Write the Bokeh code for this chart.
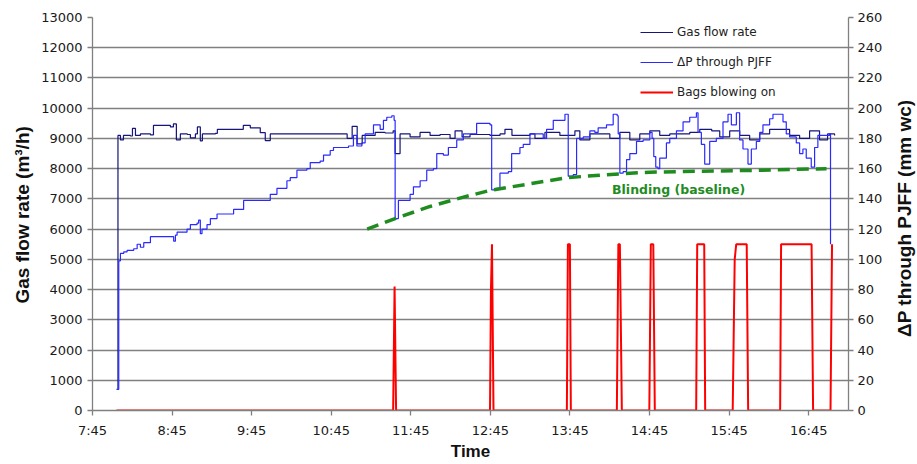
import math
from bokeh.plotting import figure
from bokeh.layouts import row
from bokeh.models import Range1d, LinearAxis, FixedTicker, Legend, LegendItem, Label
from bokeh.core.properties import value
from bokeh.embed import file_html
from bokeh.resources import INLINE

# ---------------- data (time in decimal hours) ----------------
x_ticks = [7.75, 8.75, 9.75, 10.75, 11.75, 12.75, 13.75, 14.75, 15.75, 16.75]
x_labels = ["7:45", "8:45", "9:45", "10:45", "11:45", "12:45", "13:45", "14:45", "15:45", "16:45"]
flow_ticks = list(range(0, 13001, 1000))
dp_ticks = list(range(0, 261, 20))

gas_t = [8.064, 8.070, 8.101, 8.139, 8.227, 8.252, 8.290, 8.352, 8.478, 8.516, 8.729, 8.767,
         8.804, 8.854, 8.942, 8.980, 9.043, 9.068, 9.105, 9.131, 9.294, 9.319, 9.607, 9.645,
         9.733, 9.858, 9.921, 9.984, 10.611, 10.862, 10.950, 11.013, 11.076, 11.139, 11.302,
         11.427, 11.528, 11.553, 11.615, 11.741, 11.866, 11.992, 12.117, 12.243, 12.306,
         12.394, 12.494, 12.745, 12.871, 12.933, 13.021, 13.247, 13.310, 13.435, 13.623,
         13.812, 13.874, 14.000, 14.251, 14.376, 14.502, 14.627, 14.753, 14.878, 15.004,
         15.255, 15.381, 15.531, 15.632, 15.757, 15.883, 16.008, 16.134, 16.259, 16.384,
         16.510, 16.636, 16.761, 16.886, 16.987, 17.075]
gas_flow = [700, 9100, 8950, 9100, 9080, 9330, 9100, 9150, 9120, 9430, 9380, 9480,
            8950, 9150, 9130, 9020, 9150, 9380, 8920, 9150, 9170, 9300, 9300, 9430,
            9350, 9190, 8930, 9150, 9150, 9150, 9000, 9400, 8820, 9100, 9200,
            9180, 9250, 8500, 9150, 9050, 9200, 9100, 9130, 9000, 9250,
            9050, 9130, 9100, 9150, 9300, 9100, 9150, 9000, 9200, 9100,
            9250, 8950, 9150, 9000, 9200, 8950, 9150, 9250, 9100, 9150,
            9200, 9300, 9250, 9050, 9250, 9100, 8950, 9150, 9300, 9300,
            9100, 9000, 9250, 8950, 9150, 9100]

dp_t = [8.051, 8.080, 8.101, 8.143, 8.185, 8.268, 8.311, 8.352, 8.394, 8.478, 8.750, 8.770,
        8.792, 8.813, 8.938, 8.980, 9.064, 9.084, 9.105, 9.126, 9.189, 9.231, 9.315, 9.523,
        9.649, 9.942, 9.984, 10.068, 10.193, 10.235, 10.319, 10.444, 10.486, 10.611, 10.653,
        10.737, 10.778, 10.967, 11.029, 11.072, 11.135, 11.176, 11.239, 11.281, 11.365,
        11.406, 11.448, 11.511, 11.540, 11.553, 11.594, 11.699, 11.741, 11.783, 11.867,
        11.950, 12.034, 12.076, 12.159, 12.222, 12.327, 12.410, 12.535, 12.577, 12.745,
        12.766, 12.829, 12.870, 12.975, 13.017, 13.121, 13.163, 13.247, 13.331, 13.414,
        13.456, 13.540, 13.687, 13.716, 13.728, 13.791, 13.833, 13.917, 14.000, 14.063,
        14.104, 14.209, 14.293, 14.343, 14.356, 14.377, 14.418, 14.461, 14.502, 14.586,
        14.669, 14.753, 14.782, 14.803, 14.828, 14.857, 14.878, 14.962, 15.004, 15.088,
        15.171, 15.255, 15.339, 15.359, 15.401, 15.443, 15.506, 15.589, 15.673, 15.736,
        15.778, 15.841, 15.882, 15.924, 15.987, 16.029, 16.092, 16.134, 16.175, 16.259,
        16.301, 16.385, 16.427, 16.468, 16.510, 16.594, 16.636, 16.677, 16.719, 16.782,
        16.824, 16.865, 16.928, 17.012, 17.024]
dp_mm = [14, 99, 104, 105, 106, 107, 110, 108, 111, 115, 115, 112,
         116, 118, 120, 123, 124, 126, 117, 120, 123, 127, 130, 133,
         139, 139, 143, 147, 152, 154, 159, 160, 164, 165, 169,
         172, 174, 175, 182, 175, 177, 183, 183, 189, 186,
         192, 194, 195, 192, 127, 139, 139, 143, 148, 152,
         159, 160, 170, 169, 174, 179, 183, 183, 190, 189,
         146, 147, 157, 158, 170, 174, 176, 183, 183, 180,
         186, 192, 196, 196, 155, 156, 180, 181, 185, 184,
         187, 189, 196, 195, 183, 157, 158, 166, 170, 178,
         179, 184, 180, 168, 161, 160, 167, 177, 180, 185,
         191, 194, 197, 184, 176, 163, 178, 180, 191, 196,
         189, 197, 179, 173, 163, 173, 178, 184, 189, 193,
         196, 196, 191, 183, 181, 177, 170, 173, 167, 161,
         174, 182, 182, 183, 110]

bag_t = [8.051, 11.528, 11.546, 11.565, 12.745, 12.757, 12.770, 12.789, 13.711, 13.724,
         13.749, 13.761, 14.339, 14.358, 14.377, 14.402, 14.747, 14.766, 14.797, 14.816,
         15.336, 15.349, 15.437, 15.449, 15.795, 15.820, 15.839, 15.971, 15.989, 16.391,
         16.403, 16.786, 16.805, 17.024, 17.043]
bag_on = [0, 0, 82, 0, 0, 80, 110, 0, 0, 110,
          110, 0, 0, 110, 110, 0, 0, 110, 110, 0,
          0, 110, 110, 0, 0, 100, 110, 110, 0, 0,
          110, 110, 0, 0, 110]

base_t = [11.201, 11.553, 11.992, 12.400, 12.745, 13.247, 13.711, 14.200, 14.753, 15.400, 16.008, 16.974]
base_mm = [120, 127, 135, 141, 145.6, 150, 154, 156, 157.7, 158.3, 158.8, 160]

left_title = "Gas flow rate (m\u00b3/h)"
right_title = "\u0394P through PJFF (mm wc)"

# ---------------- main figure ----------------
GRID = "#808080"
TICKFONT = "DejaVu Sans"
TITLEFONT = "Liberation Sans"
H = 464

p = figure(width=856, height=H, x_range=Range1d(7.75, 17.25), y_range=Range1d(0, 13000),
           output_backend="svg", toolbar_location=None,
           min_border_left=58, min_border_right=42, min_border_top=17, min_border_bottom=54)
p.extra_y_ranges = {"dp": Range1d(0, 260)}
p.outline_line_color = None
p.background_fill_color = "white"
p.border_fill_color = "white"

p.xgrid.grid_line_color = None
p.ygrid.grid_line_color = GRID
p.ygrid.grid_line_width = 1.3
p.ygrid.ticker = FixedTicker(ticks=flow_ticks)

ya = p.yaxis[0]
ya.ticker = FixedTicker(ticks=flow_ticks)

xa = p.xaxis[0]
xa.ticker = FixedTicker(ticks=x_ticks)
xa.major_label_overrides = dict(zip(x_ticks, x_labels))
xa.axis_label = "Time"
xa.axis_label_standoff = 1

ra = LinearAxis(y_range_name="dp", ticker=FixedTicker(ticks=dp_ticks))
p.add_layout(ra, "right")

for ax in (ya, xa, ra):
    ax.axis_line_color = GRID
    ax.axis_line_width = 1.3
    ax.major_tick_line_color = GRID
    ax.major_tick_line_width = 1.3
    ax.major_tick_in = 0
    ax.major_tick_out = 5
    ax.minor_tick_line_color = None
    ax.major_label_text_font = TICKFONT
    ax.major_label_text_font_size = "13px"
    ax.major_label_text_color = "#1a1a1a"
xa.axis_label_text_font = TITLEFONT
xa.axis_label_text_font_style = "bold"
xa.axis_label_text_color = "#111111"
xa.axis_label_text_font_size = "17px"
ya.major_label_standoff = 5
ra.major_label_standoff = 4
xa.major_label_standoff = 7

# ---------------- series ----------------
r_gas = p.step(gas_t, gas_flow, mode="after", line_color="#15157a", line_width=1.2)
r_dp = p.step(dp_t, dp_mm, mode="after", y_range_name="dp", line_color="#2a2aff", line_width=1.2)
r_bag = p.line(bag_t, bag_on, y_range_name="dp", line_color="#ff0000", line_width=2)
p.line(base_t, base_mm, y_range_name="dp", line_color="#1f8c1f", line_width=3.5, line_dash="12 7")

p.add_layout(Label(x=15.115, y=146, y_range_name="dp", text="Blinding (baseline)",
                   text_align="center", text_baseline="middle", text_font="DejaVu Sans",
                   text_font_style="bold", text_font_size="12.5px", text_color="#1f8c1f"))

legend = Legend(items=[LegendItem(label="Gas flow rate", renderers=[r_gas]),
                       LegendItem(label="\u0394P through PJFF", renderers=[r_dp]),
                       LegendItem(label="Bags blowing on", renderers=[r_bag])],
                location=(548, 308))
legend.background_fill_alpha = 0
legend.border_line_alpha = 0
legend.padding = 0
legend.margin = 0
legend.spacing = 10
legend.glyph_width = 33
legend.glyph_height = 20
legend.label_height = 20
legend.label_standoff = 4
legend.label_text_font = "DejaVu Sans"
legend.label_text_font_size = "12px"
legend.label_text_color = "#222222"
p.add_layout(legend)


# ---------------- side strips carrying the vertical axis titles ----------------
def title_strip(width, text, cx, cy):
    s = figure(width=width, height=H, x_range=Range1d(0, width), y_range=Range1d(0, H),
               output_backend="svg", toolbar_location=None,
               min_border_left=0, min_border_right=0, min_border_top=0, min_border_bottom=0)
    s.axis.visible = False
    s.grid.visible = False
    s.outline_line_color = None
    s.background_fill_color = "white"
    s.border_fill_color = "white"
    s.text(x=[cx], y=[cy], text=[text], angle=math.pi / 2, text_align="center",
           text_baseline="middle", text_font=value(TITLEFONT), text_font_style="bold",
           text_font_size="19px", text_color="#111111")
    return s


left_strip = title_strip(34, left_title, 22, H - 233)
right_strip = title_strip(27, right_title, 14, H - 237)

layout = row(left_strip, p, right_strip)
open("out.html", "w").write(file_html(layout, INLINE))
